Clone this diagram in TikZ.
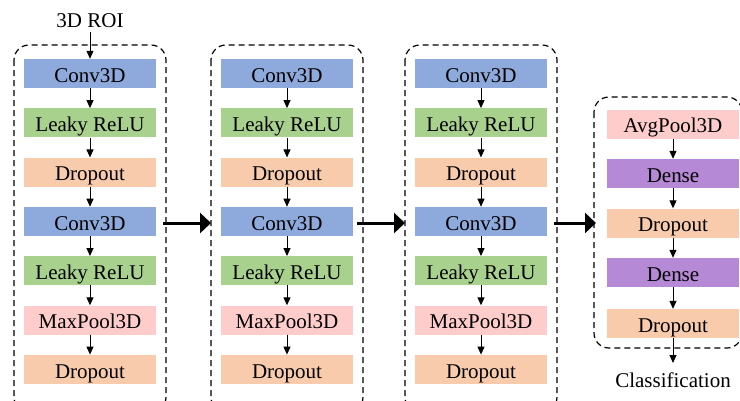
\documentclass[tikz,border=0pt]{standalone}
\usepackage{fontspec}
\setmainfont{Liberation Serif}
\usetikzlibrary{arrows.meta}
\definecolor{convblue}{RGB}{142,169,219}
\definecolor{relugreen}{RGB}{169,209,142}
\definecolor{droppeach}{RGB}{248,203,173}
\definecolor{poolpink}{RGB}{255,204,204}
\definecolor{densepurple}{RGB}{181,137,214}
\tikzset{
  layer/.style={minimum width=132pt, minimum height=29pt, inner sep=0pt,
    text height=20pt, text depth=2.4pt,
    font=\fontsize{21}{24}\selectfont},
  conv/.style={layer, fill=convblue},
  relu/.style={layer, fill=relugreen},
  drop/.style={layer, fill=droppeach},
  pool/.style={layer, fill=poolpink},
  dense/.style={layer, fill=densepurple},
  group/.style={draw, line width=1.2pt, dash pattern=on 6pt off 4pt, rounded corners=15pt},
  flow/.style={line width=1pt, -{Triangle[length=8pt,width=7pt]}},
  bigflow/.style={line width=3pt, -{Triangle[length=11pt,width=20pt]}},
  lbl/.style={inner sep=0pt, anchor=base, font=\fontsize{21}{24}\selectfont}
}
\begin{document}
\begin{tikzpicture}[x=1pt,y=-1pt]
\clip (0,0) rectangle (740,400);
\fill[white] (0,0) rectangle (740,400);

% three convolutional blocks
\foreach \c/\x in {1/90,2/287,3/481}{
  \draw[group] (\x-76,45) rectangle (\x+76,412);
  \node[conv] (c\c a) at (\x,73.5) {Conv3D};
  \node[relu] (c\c b) at (\x,122.8) {Leaky ReLU};
  \node[drop] (c\c c) at (\x,172.1) {Dropout};
  \node[conv] (c\c d) at (\x,221.4) {Conv3D};
  \node[relu] (c\c e) at (\x,270.7) {Leaky ReLU};
  \node[pool] (c\c f) at (\x,320) {MaxPool3D};
  \node[drop] (c\c g) at (\x,369.3) {Dropout};
  \draw[flow] (c\c a) -- (c\c b);
  \draw[flow] (c\c b) -- (c\c c);
  \draw[flow] (c\c c) -- (c\c d);
  \draw[flow] (c\c d) -- (c\c e);
  \draw[flow] (c\c e) -- (c\c f);
  \draw[flow] (c\c f) -- (c\c g);
}

% input
\node[lbl] (roi) at (90,27) {3D ROI};
\coordinate (roiS) at (90,32);
\draw[flow] (roiS) -- (c1a.north);

% classifier head
\draw[group] (594,97) rectangle (742,348);
\node[pool]  (h1) at (673,124) {AvgPool3D};
\node[dense] (h2) at (673,173.5) {Dense};
\node[drop]  (h3) at (673,223) {Dropout};
\node[dense] (h4) at (673,272.5) {Dense};
\node[drop]  (h5) at (673,323.5) {Dropout};
\node[lbl]   (cls) at (673,387) {Classification};
\coordinate (clsN) at (673,363);
\draw[flow] (h1) -- (h2);
\draw[flow] (h2) -- (h3);
\draw[flow] (h3) -- (h4);
\draw[flow] (h4) -- (h5);
\draw[flow] (h5) -- (clsN);

% block-to-block arrows
\coordinate (a1s) at (163,223); \coordinate (a1e) at (211,223);
\coordinate (a2s) at (357,223); \coordinate (a2e) at (405,223);
\coordinate (a3s) at (554,223); \coordinate (a3e) at (596,223);
\draw[bigflow] (a1s) -- (a1e);
\draw[bigflow] (a2s) -- (a2e);
\draw[bigflow] (a3s) -- (a3e);
\end{tikzpicture}
\end{document}
